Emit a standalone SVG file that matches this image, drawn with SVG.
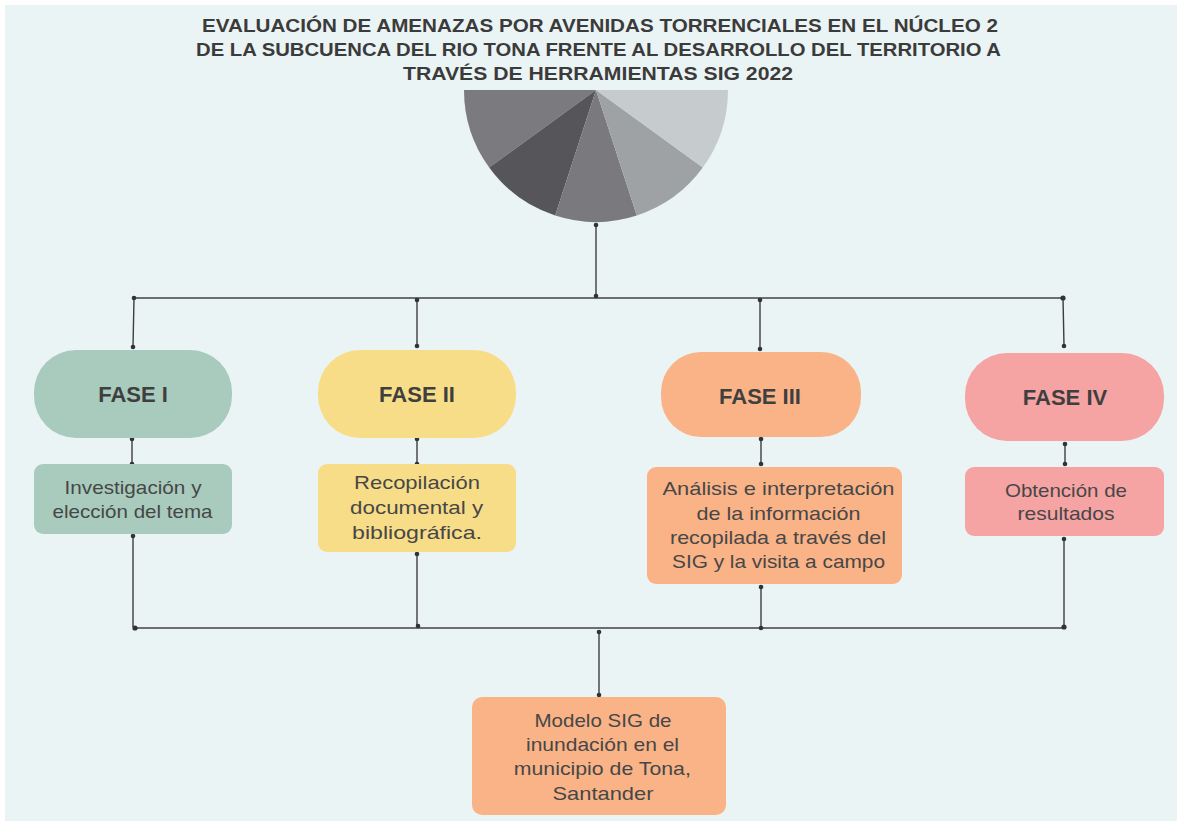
<svg xmlns="http://www.w3.org/2000/svg" width="1177" height="821" viewBox="0 0 1177 821">
<style>
.title{font-family:"Liberation Sans",Arial,sans-serif;font-weight:bold;font-size:18.5px;fill:#3b3b3b;text-anchor:middle}
.phase{font-family:"Liberation Sans",Arial,sans-serif;font-weight:bold;font-size:22px;fill:#3f3f3f;text-anchor:middle}
.body{font-family:"Liberation Sans",Arial,sans-serif;font-size:19px;fill:#474747;text-anchor:middle}
.ln{stroke:#3e3e3e;stroke-width:1.4;fill:none}
.bus{stroke:#6e6e6e;stroke-width:2.2;fill:none}
.dot{fill:#333}
.g1{fill:#a8cbbd}.g2{fill:#f8dd88}.g3{fill:#f9b387}.g4{fill:#f6a3a4}
</style>
<rect x="0" y="0" width="1177" height="821" fill="#ffffff"/>
<rect x="5" y="5" width="1172" height="816" fill="#ebf4f5"/>
<g id="title">
<text class="title" x="600" y="32" textLength="796" lengthAdjust="spacingAndGlyphs">EVALUACIÓN DE AMENAZAS POR AVENIDAS TORRENCIALES EN EL NÚCLEO 2</text>
<text class="title" x="598.5" y="56" textLength="805" lengthAdjust="spacingAndGlyphs">DE LA SUBCUENCA DEL RIO TONA FRENTE AL DESARROLLO DEL TERRITORIO A</text>
<text class="title" x="598" y="80" textLength="390" lengthAdjust="spacingAndGlyphs">TRAVÉS DE HERRAMIENTAS SIG 2022</text>
</g>
<g id="pie">
<path d="M596 90 L464 90 A132 132 0 0 0 489.2 167.6 Z" fill="#7b7a7f"/>
<path d="M596 90 L489.2 167.6 A132 132 0 0 0 555.2 215.5 Z" fill="#56555a"/>
<path d="M596 90 L555.2 215.5 A132 132 0 0 0 636.8 215.5 Z" fill="#7a7a7e"/>
<path d="M596 90 L636.8 215.5 A132 132 0 0 0 702.8 167.6 Z" fill="#9fa2a5"/>
<path d="M596 90 L702.8 167.6 A132 132 0 0 0 728 90 Z" fill="#c6ccce"/>
</g>
<g id="connectors">
<path class="bus" d="M134 298 H1063"/>
<path class="bus" d="M135 628 H1064"/>
<path class="ln" d="M596 225 V296"/>
<path class="ln" d="M134 298 L133 347"/>
<path class="ln" d="M417 300 V346"/>
<path class="ln" d="M760 300 V349"/>
<path class="ln" d="M1063 298 L1064 346"/>
<path class="ln" d="M132 439 V464"/>
<path class="ln" d="M417 439 V464"/>
<path class="ln" d="M761 439 V464"/>
<path class="ln" d="M1065 444 V464"/>
<path class="ln" d="M133 536 V627"/>
<path class="ln" d="M417 553 V627"/>
<path class="ln" d="M761 586 V628"/>
<path class="ln" d="M1064 538 V627"/>
<path class="ln" d="M599 632 V695"/>
<circle class="dot" cx="596" cy="225" r="2.3"/>
<circle class="dot" cx="596" cy="296" r="2.3"/>
<circle class="dot" cx="134" cy="298" r="2.3"/>
<circle class="dot" cx="133" cy="347" r="2.3"/>
<circle class="dot" cx="417" cy="300" r="2.3"/>
<circle class="dot" cx="417" cy="346" r="2.3"/>
<circle class="dot" cx="760" cy="300" r="2.3"/>
<circle class="dot" cx="760" cy="349" r="2.3"/>
<circle class="dot" cx="1063" cy="298" r="2.6"/>
<circle class="dot" cx="1064" cy="346" r="2.3"/>
<circle class="dot" cx="132" cy="439" r="2.3"/>
<circle class="dot" cx="132" cy="464" r="2.3"/>
<circle class="dot" cx="417" cy="439" r="2.3"/>
<circle class="dot" cx="417" cy="464" r="2.3"/>
<circle class="dot" cx="761" cy="439" r="2.3"/>
<circle class="dot" cx="761" cy="464" r="2.3"/>
<circle class="dot" cx="1065" cy="444" r="2.3"/>
<circle class="dot" cx="1065" cy="464" r="2.3"/>
<circle class="dot" cx="133" cy="536" r="2.3"/>
<circle class="dot" cx="417" cy="554" r="2.3"/>
<circle class="dot" cx="761" cy="587" r="2.3"/>
<circle class="dot" cx="1064" cy="539" r="2.3"/>
<circle class="dot" cx="135" cy="628" r="2.6"/>
<circle class="dot" cx="418" cy="626" r="2.3"/>
<circle class="dot" cx="761" cy="628" r="2.3"/>
<circle class="dot" cx="1064" cy="627" r="2.6"/>
<circle class="dot" cx="599" cy="632" r="2.3"/>
<circle class="dot" cx="599" cy="695" r="2.3"/>
</g>
<g id="fase1">
<rect class="g1" x="34" y="350" width="198" height="88" rx="42"/>
<text class="phase" x="133" y="402">FASE I</text>
</g>
<g id="fase2">
<rect class="g2" x="318" y="350" width="198" height="88" rx="42"/>
<text class="phase" x="417" y="402">FASE II</text>
</g>
<g id="fase3">
<rect class="g3" x="661" y="352" width="200" height="85" rx="40"/>
<text class="phase" x="760" y="404">FASE III</text>
</g>
<g id="fase4">
<rect class="g4" x="965" y="353" width="199" height="88" rx="42"/>
<text class="phase" x="1065" y="405">FASE IV</text>
</g>
<g id="box1">
<rect class="g1" x="34" y="464" width="198" height="70" rx="9"/>
<text class="body" x="133" y="494" textLength="137" lengthAdjust="spacingAndGlyphs">Investigación y</text>
<text class="body" x="132.5" y="518" textLength="160" lengthAdjust="spacingAndGlyphs">elección del tema</text>
</g>
<g id="box2">
<rect class="g2" x="318" y="464" width="198" height="88" rx="9"/>
<text class="body" x="417" y="489" textLength="126" lengthAdjust="spacingAndGlyphs">Recopilación</text>
<text class="body" x="416.6" y="514" textLength="133" lengthAdjust="spacingAndGlyphs">documental y</text>
<text class="body" x="417" y="539" textLength="130" lengthAdjust="spacingAndGlyphs">bibliográfica.</text>
</g>
<g id="box3">
<rect class="g3" x="647" y="467" width="255" height="117" rx="9"/>
<text class="body" x="778.5" y="495" textLength="232" lengthAdjust="spacingAndGlyphs">Análisis e interpretación</text>
<text class="body" x="778.5" y="520" textLength="164" lengthAdjust="spacingAndGlyphs">de la información</text>
<text class="body" x="778" y="544" textLength="216" lengthAdjust="spacingAndGlyphs">recopilada a través del</text>
<text class="body" x="778.5" y="568" textLength="213" lengthAdjust="spacingAndGlyphs">SIG y la visita a campo</text>
</g>
<g id="box4">
<rect class="g4" x="965" y="467" width="199" height="69" rx="9"/>
<text class="body" x="1066" y="497" textLength="122" lengthAdjust="spacingAndGlyphs">Obtención de</text>
<text class="body" x="1066" y="520" textLength="97" lengthAdjust="spacingAndGlyphs">resultados</text>
</g>
<g id="result">
<rect class="g3" x="472" y="697" width="254" height="118" rx="10"/>
<text class="body" x="603" y="727" textLength="137" lengthAdjust="spacingAndGlyphs">Modelo SIG de</text>
<text class="body" x="602.5" y="751" textLength="153" lengthAdjust="spacingAndGlyphs">inundación en el</text>
<text class="body" x="602.3" y="775" textLength="177" lengthAdjust="spacingAndGlyphs">municipio de Tona,</text>
<text class="body" x="603" y="800" textLength="101" lengthAdjust="spacingAndGlyphs">Santander</text>
</g>
</svg>
